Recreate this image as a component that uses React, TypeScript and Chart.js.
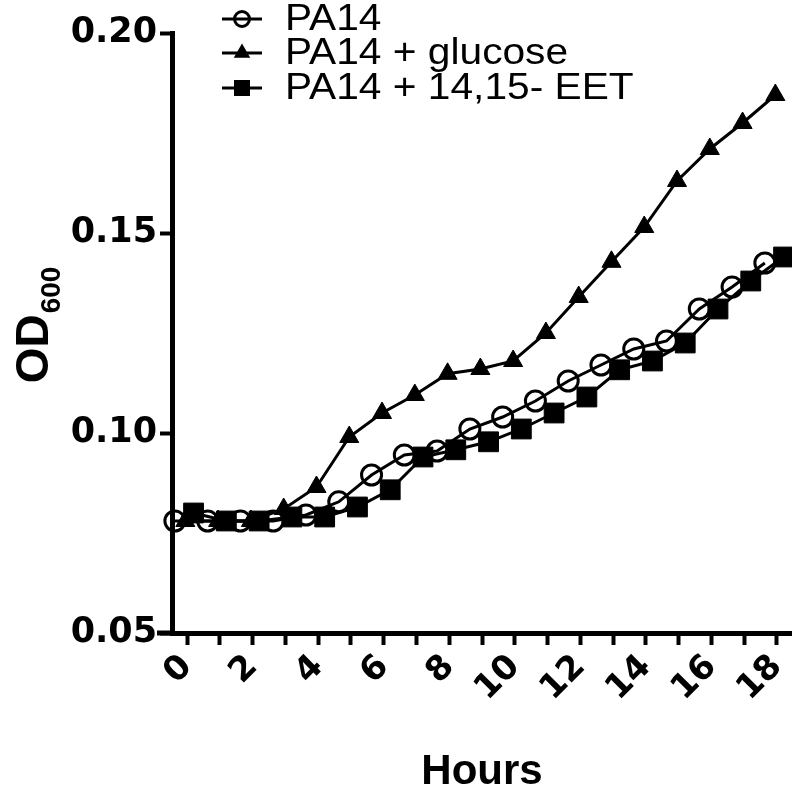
import React, { useEffect, useRef } from 'react';
import { Chart, registerables } from 'chart.js';

Chart.register(...registerables);

// ---- data ----
const HOURS = [0, 1, 2, 3, 4, 5, 6, 7, 8, 9, 10, 11, 12, 13, 14, 15, 16, 17, 18];
const PA14 = [0.078, 0.078, 0.078, 0.078, 0.0795, 0.0828, 0.0895, 0.0945, 0.0955, 0.101, 0.104, 0.108, 0.113, 0.117, 0.121, 0.123, 0.131, 0.1365, 0.1425];
const PA14_GLUCOSE = [0.078, 0.078, 0.078, 0.081, 0.0865, 0.099, 0.105, 0.1095, 0.1148, 0.116, 0.118, 0.125, 0.134, 0.1428, 0.1515, 0.163, 0.171, 0.1775, 0.1845];
const PA14_EET = [0.080, 0.078, 0.078, 0.079, 0.079, 0.0815, 0.0858, 0.094, 0.0958, 0.0978, 0.101, 0.105, 0.109, 0.1158, 0.118, 0.1225, 0.131, 0.138, 0.144];
// horizontal nudge (hours) of each series, as plotted in the original figure
const SERIES_NUDGE = [-0.37, -0.05, 0.2];
const SERIES_NAMES = ['PA14', 'PA14 + glucose', 'PA14 + 14,15- EET'];
const X_TICKS = HOURS;
const X_TICK_LABELS = HOURS.map((h) => (h % 2 === 0 ? String(h) : ''));
const Y_TICKS = [0.05, 0.1, 0.15, 0.2];
const Y_TICK_LABELS = ['0.05', '0.10', '0.15', '0.20'];

const toPoints = (vals: number[], nudge: number) => HOURS.map((h, i) => ({ x: h + nudge, y: vals[i] }));

const overlayPlugin = {
  id: 'overlay',
  afterDraw(chart: any) {
    const ctx = chart.ctx as CanvasRenderingContext2D;
    const { left, top, bottom } = chart.chartArea;
    ctx.save();
    // x axis continues a little left of the y axis
    ctx.strokeStyle = '#000';
    ctx.lineWidth = 5;
    ctx.beginPath();
    ctx.moveTo(left - 15, bottom);
    ctx.lineTo(left, bottom);
    ctx.stroke();

    // y-axis title OD600 (with subscript)
    ctx.fillStyle = '#000';
    ctx.textAlign = 'left';
    ctx.textBaseline = 'alphabetic';
    const mainFont = 'bold 46px "Liberation Sans", Arial, sans-serif';
    const subFont = 'bold 28px "Liberation Sans", Arial, sans-serif';
    ctx.font = mainFont;
    const wMain = ctx.measureText('OD').width;
    ctx.font = subFont;
    const wSub = ctx.measureText('600').width;
    const total = wMain + 1 + wSub;
    const cy = (top + bottom) / 2 - 8;
    ctx.save();
    ctx.translate(48, cy + total / 2);
    ctx.rotate(-Math.PI / 2);
    ctx.font = mainFont;
    ctx.fillText('OD', 0, 0);
    ctx.font = subFont;
    ctx.fillText('600', wMain + 1, 12);
    ctx.restore();

    // legend
    const rowY = [19, 53, 88];
    SERIES_NAMES.forEach((name, i) => {
      const y = rowY[i];
      ctx.strokeStyle = '#000';
      ctx.fillStyle = '#000';
      ctx.lineWidth = 3;
      ctx.beginPath();
      ctx.moveTo(222, y);
      ctx.lineTo(262, y);
      ctx.stroke();
      const cx = 242;
      if (i === 0) {
        ctx.beginPath();
        ctx.arc(cx, y, 7.5, 0, Math.PI * 2);
        ctx.stroke();
      } else if (i === 1) {
        const r = 9.5;
        ctx.beginPath();
        ctx.moveTo(cx, y - r);
        ctx.lineTo(cx + r * Math.cos(Math.PI / 6), y + r / 2);
        ctx.lineTo(cx - r * Math.cos(Math.PI / 6), y + r / 2);
        ctx.closePath();
        ctx.fill();
      } else {
        ctx.fillRect(cx - 8, y - 8, 16, 16);
      }
      ctx.save();
      ctx.translate(285, y);
      ctx.scale(1.13, 1);
      ctx.font = '36px "Liberation Sans", Arial, sans-serif';
      ctx.textBaseline = 'middle';
      ctx.fillText(name, 0, 1);
      ctx.restore();
    });
    ctx.restore();
  },
};

export default function App() {
  const canvasRef = useRef<HTMLCanvasElement | null>(null);

  useEffect(() => {
    const canvas = canvasRef.current;
    if (!canvas) return;
    const lineCommon = {
      showLine: true,
      borderColor: '#000',
      borderWidth: 3,
      tension: 0,
      clip: false,
      pointBorderColor: '#000',
      pointHoverRadius: 0,
    };
    const chart = new Chart(canvas, {
      type: 'scatter',
      data: {
        datasets: [
          {
            ...lineCommon,
            label: SERIES_NAMES[0],
            data: toPoints(PA14, SERIES_NUDGE[0]),
            pointStyle: 'circle',
            pointRadius: 10,
            pointBorderWidth: 3,
            pointBackgroundColor: 'rgba(0,0,0,0)',
            backgroundColor: 'rgba(0,0,0,0)',
            order: 2,
          },
          {
            ...lineCommon,
            label: SERIES_NAMES[1],
            data: toPoints(PA14_GLUCOSE, SERIES_NUDGE[1]),
            pointStyle: 'triangle',
            pointRadius: 11,
            pointBorderWidth: 1,
            pointBackgroundColor: '#000',
            backgroundColor: '#000',
            order: 1,
          },
          {
            ...lineCommon,
            label: SERIES_NAMES[2],
            data: toPoints(PA14_EET, SERIES_NUDGE[2]),
            pointStyle: 'rect',
            pointRadius: 14,
            pointBorderWidth: 1,
            pointBackgroundColor: '#000',
            backgroundColor: '#000',
            order: 0,
          },
        ],
      } as any,
      options: {
        animation: false,
        responsive: false,
        maintainAspectRatio: false,
        devicePixelRatio: 1,
        layout: { autoPadding: false, padding: { top: 33, right: 0, bottom: 0, left: 0 } },
        plugins: {
          legend: { display: false },
          tooltip: { enabled: false },
        },
        events: [],
        scales: {
          x: {
            type: 'linear',
            min: -0.458,
            max: 18.458,
            afterBuildTicks: (s: any) => {
              s.ticks = X_TICKS.map((v) => ({ value: v }));
            },
            afterFit: (s: any) => {
              s.height = 170;
              s.paddingLeft = 0;
              s.paddingRight = 0;
            },
            ticks: {
              autoSkip: false,
              minRotation: 45,
              maxRotation: 45,
              padding: 2,
              color: '#000',
              font: { family: '"DejaVu Sans", sans-serif', weight: 'bold', size: 34 },
              callback: (_v: any, i: number) => X_TICK_LABELS[i],
            },
            grid: { drawOnChartArea: false, tickLength: 12, tickWidth: 4, tickColor: '#000', color: '#000' },
            border: { display: true, width: 5, color: '#000' },
            title: {
              display: true,
              text: 'Hours',
              color: '#000',
              font: { family: '"Liberation Sans", Arial, sans-serif', weight: 'bold', size: 42 },
              padding: { top: 0, bottom: 5 },
            },
          },
          y: {
            type: 'linear',
            min: 0.05,
            max: 0.2,
            afterBuildTicks: (s: any) => {
              s.ticks = Y_TICKS.map((v) => ({ value: v }));
            },
            afterFit: (s: any) => {
              s.width = 172;
              s.paddingTop = 0;
              s.paddingBottom = 0;
            },
            ticks: {
              padding: 3,
              color: '#000',
              font: { family: '"DejaVu Sans", sans-serif', weight: 'bold', size: 35 },
              callback: (_v: any, i: number) => Y_TICK_LABELS[i],
            },
            grid: { drawOnChartArea: false, tickLength: 12, tickWidth: 4, tickColor: '#000', color: '#000' },
            border: { display: true, width: 5, color: '#000' },
          },
        },
      } as any,
      plugins: [overlayPlugin],
    });
    return () => chart.destroy();
  }, []);

  return (
    <div style={{ position: 'absolute', left: 0, top: 0, width: 792, height: 803, background: '#fff' }}>
      <canvas ref={canvasRef} width={792} height={803} style={{ display: 'block', width: 792, height: 803 }} />
    </div>
  );
}
